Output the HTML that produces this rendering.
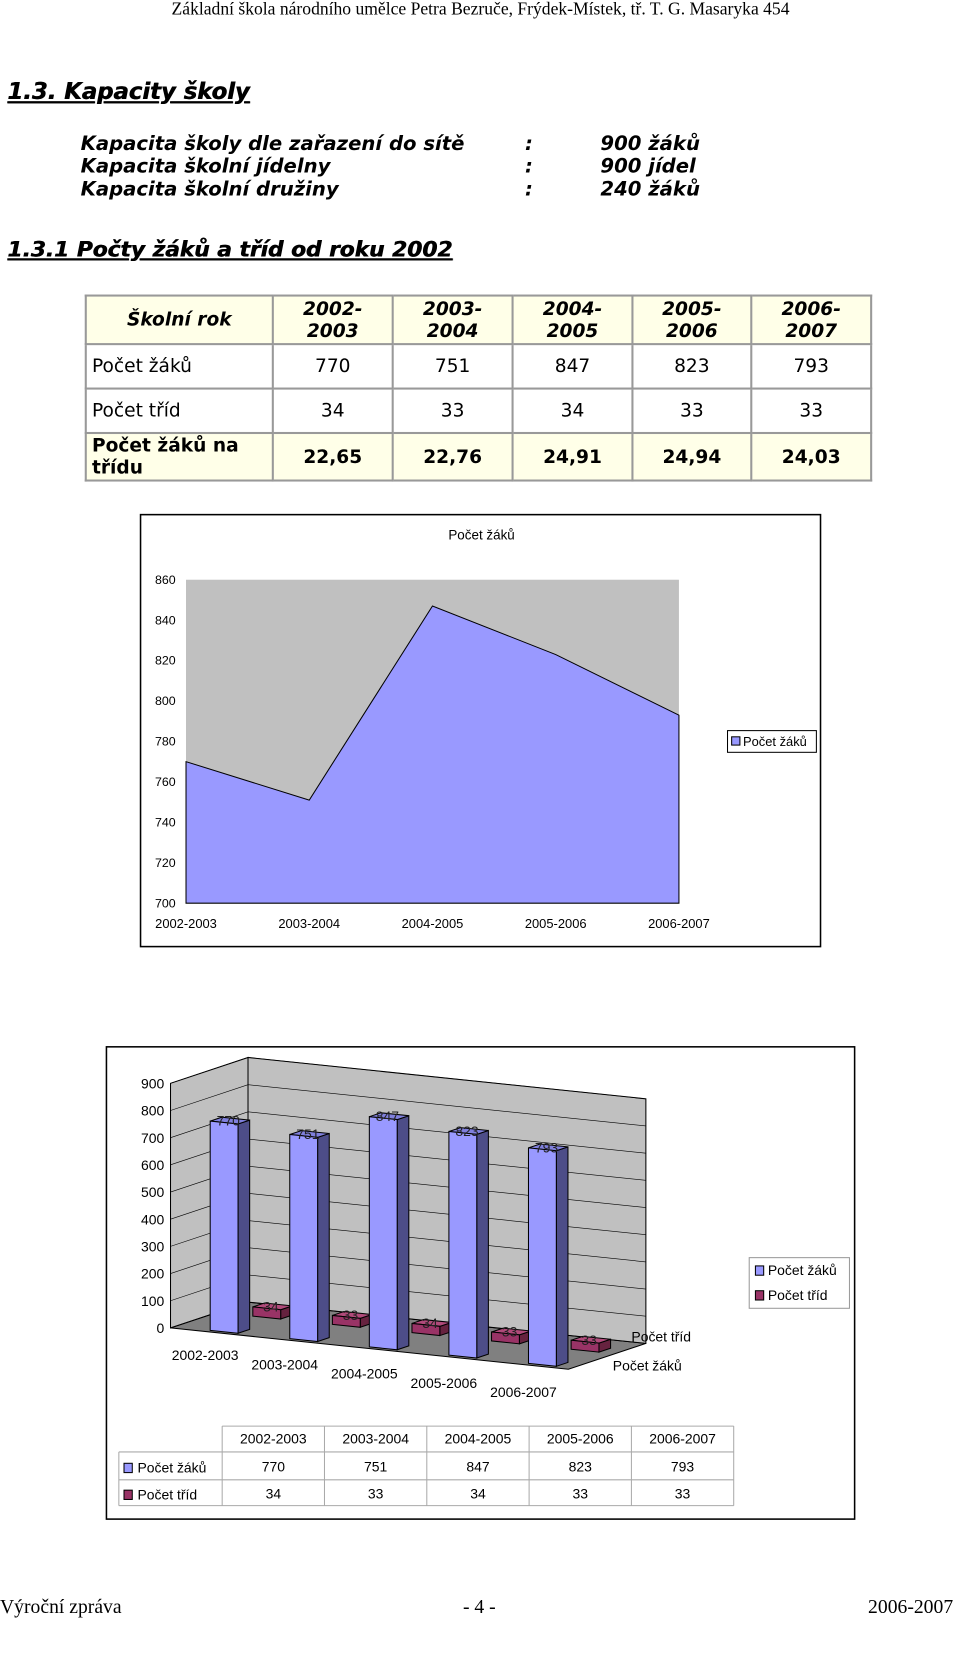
<!DOCTYPE html>
<html><head><meta charset="utf-8"><style>
body{margin:0;width:960px;height:1624px;background:#fff;position:relative;font-family:"Liberation Sans",sans-serif;overflow:hidden}
#wrap{position:absolute;left:0;top:0;width:929px;height:1572px;transform:scale(1.0334);transform-origin:0 0}
.a{position:absolute;white-space:nowrap}
.h{font-family:"DejaVu Sans",sans-serif;font-weight:900;font-style:italic;text-decoration:underline;color:#000;text-shadow:0.6px 0 0 #000}
.cap{font-family:"DejaVu Sans",sans-serif;font-weight:bold;font-style:italic;font-size:19px}
table.t{position:absolute;left:82px;top:285px;border-collapse:collapse;font-family:"DejaVu Sans",sans-serif;font-size:18px}
table.t td{border:2px solid #999;text-align:center;padding:0;line-height:21px}
</style></head><body>
<div id="wrap">
<div class="a" style="left:0;width:930px;text-align:center;top:-1px;font-family:'Liberation Serif',serif;font-size:17px">Základní škola národního umělce Petra Bezruče, Frýdek-Místek, tř. T. G. Masaryka 454</div>
<div class="a h" style="left:7px;top:77px;font-size:22px">1.3. Kapacity školy</div>
<div class="a cap" style="left:78px;top:128px;line-height:22px">Kapacita školy dle zařazení do sítě<br>Kapacita školní jídelny<br>Kapacita školní družiny</div>
<div class="a cap" style="left:508px;top:128px;line-height:22px">:<br>:<br>:</div>
<div class="a cap" style="left:581px;top:128px;line-height:22px">900 žáků<br>900 jídel<br>240 žáků</div>
<div class="a h" style="left:7px;top:229px;font-size:21px">1.3.1 Počty  žáků a tříd od roku 2002</div>

<table class="t">
<tr style="height:47px;background:#ffffe8;font-weight:bold;font-style:italic"><td style="width:179px">Školní rok</td><td style="width:114px">2002-<br>2003</td><td style="width:114px">2003-<br>2004</td><td style="width:114px">2004-<br>2005</td><td style="width:113px">2005-<br>2006</td><td style="width:114px">2006-<br>2007</td></tr>
<tr style="height:43px"><td style="text-align:left;padding-left:5px">Počet žáků</td><td>770</td><td>751</td><td>847</td><td>823</td><td>793</td></tr>
<tr style="height:43px"><td style="text-align:left;padding-left:5px">Počet tříd</td><td>34</td><td>33</td><td>34</td><td>33</td><td>33</td></tr>
<tr style="height:46px;background:#ffffe8;font-weight:bold"><td style="text-align:left;padding-left:5px">Počet žáků na<br>třídu</td><td>22,65</td><td>22,76</td><td>24,91</td><td>24,94</td><td>24,03</td></tr>
</table>

<svg class="a" style="left:0;top:0" width="960" height="1624" font-family="Liberation Sans, sans-serif">
<g id="area">
<rect x="136" y="498" width="658" height="418" fill="#fff" stroke="#000" stroke-width="1.5"/>
<text x="466" y="522" font-size="13" text-anchor="middle">Počet žáků</text>
</g>
<g id="bar3d">
<rect x="103" y="1013" width="724" height="457" fill="#fff" stroke="#000" stroke-width="1.5"/>
</g>
</svg>

<div class="a" style="left:0;top:1545px;font-family:'Liberation Serif',serif;font-size:19px">Výroční zpráva</div>
<div class="a" style="left:448px;top:1545px;font-family:'Liberation Serif',serif;font-size:19px">- 4 -</div>
<div class="a" style="left:840px;top:1545px;font-family:'Liberation Serif',serif;font-size:19px">2006-2007</div>
</div>

<script>
const categories=["2002-2003","2003-2004","2004-2005","2005-2006","2006-2007"];
const pupils=[770,751,847,823,793];
const classes=[34,33,34,33,33];
const areaTicks=[700,720,740,760,780,800,820,840,860];
const barTicks=[0,100,200,300,400,500,600,700,800,900];
const NS="http://www.w3.org/2000/svg";
function mk(p,tag,at,txt){const e=document.createElementNS(NS,tag);for(const k in at)e.setAttribute(k,at[k]);if(txt!==undefined)e.textContent=txt;p.appendChild(e);return e;}

// ---- area chart
const A=document.getElementById('area');
const ax0=180,ax1=657,ay0=874,ay1=561;
const ax=i=>ax0+i*(ax1-ax0)/(categories.length-1);
const ay=v=>ay0-(v-700)/(860-700)*(ay0-ay1);
let r=mk(A,'rect',{x:ax0,y:ay1,width:ax1-ax0,height:ay0-ay1,fill:'#c0c0c0'});


let d='M'+ax0+','+ay0;pupils.forEach((v,i)=>d+=' L'+ax(i)+','+ay(v));d+=' L'+ax1+','+ay0+'Z';
let p=mk(A,'path',{d:d,fill:'#9999ff',stroke:'#000','stroke-width':1});


areaTicks.forEach(t=>{const e=mk(A,'text',{x:170,y:ay(t)+4,'font-size':12,'text-anchor':'end'},t);

});
categories.forEach((c,i)=>{const e=mk(A,'text',{x:ax(i),y:898,'font-size':12.5,'text-anchor':'middle'},c);

});
let lg=mk(A,'g',{});


mk(lg,'rect',{x:704,y:707,width:86,height:21,fill:'#fff',stroke:'#000'});
mk(lg,'rect',{x:708,y:713,width:8,height:8,fill:'#9999ff',stroke:'#000'});
mk(lg,'text',{x:719,y:722,'font-size':12.5},'Počet žáků');

// ---- 3D bar chart
const B=document.getElementById('bar3d');
const P=(c,dd,v)=>[165+c*77+dd*75,1285+c*8-dd*25-v*0.263];
const poly=(pts,fill)=>mk(B,'polygon',{points:pts.map(q=>q.join(',')).join(' '),fill:fill,stroke:'#000','stroke-width':1});
const N=categories.length;
let w=poly([P(0,0,0),P(N,0,0),P(N,1,0),P(0,1,0)],'#808080');


w=poly([P(0,0,0),P(0,1,0),P(0,1,900),P(0,0,900)],'#c0c0c0');


w=poly([P(0,1,0),P(N,1,0),P(N,1,900),P(0,1,900)],'#c0c0c0');


barTicks.forEach(t=>{
  const a=P(0,0,t),b=P(0,1,t),c=P(N,1,t);
  const g=mk(B,'polyline',{points:[a,b,c].map(q=>q.join(',')).join(' '),fill:'none',stroke:'#000','stroke-width':0.6});
  
  
  const e=mk(B,'text',{x:a[0]-6,y:a[1]+5,'font-size':13.5,'text-anchor':'end'},t);
  
  
});
function bar(c0,c1,d0,d1,v,front,side,top,label,name){
  const g=mk(B,'g',{});
  
  
  const q=(pts,f)=>mk(g,'polygon',{points:pts.map(z=>z.join(',')).join(' '),fill:f,stroke:'#000','stroke-width':1});
  q([P(c1,d0,0),P(c1,d1,0),P(c1,d1,v),P(c1,d0,v)],side);
  q([P(c0,d0,v),P(c1,d0,v),P(c1,d1,v),P(c0,d1,v)],top);
  q([P(c0,d0,0),P(c1,d0,0),P(c1,d0,v),P(c0,d0,v)],front);
  const t=P((c0+c1)/2,d0,v);
  mk(g,'text',{x:t[0]+4,y:t[1]+3,'font-size':13.5,'text-anchor':'middle',fill:'#222'},label);
}
classes.forEach((v,i)=>bar(i+0.45,i+0.8,0.6,0.75,v,'#993366','#66223f','#b04a7a',v,'bar-classes-'+categories[i]));
pupils.forEach((v,i)=>bar(i+0.45,i+0.8,0.05,0.2,v,'#9999ff','#4d4d88','#8080dd',v,'bar-pupils-'+categories[i]));
categories.forEach((c,i)=>{const q=P(i+0.5,0,0);const e=mk(B,'text',{x:q[0]-5,y:q[1]+27+i*1,'font-size':13.5,'text-anchor':'middle'},c);

});
mk(B,'text',{x:611,y:1298,'font-size':13.5},'Počet tříd');
mk(B,'text',{x:593,y:1326,'font-size':13.5},'Počet žáků');
let lg2=mk(B,'g',{});


mk(lg2,'rect',{x:725,y:1217,width:97,height:49,fill:'#fff',stroke:'#999'});
mk(lg2,'rect',{x:731,y:1225,width:8,height:9,fill:'#9999ff',stroke:'#000'});
mk(lg2,'text',{x:743,y:1234,'font-size':13.5},'Počet žáků');
mk(lg2,'rect',{x:731,y:1249,width:8,height:9,fill:'#993366',stroke:'#000'});
mk(lg2,'text',{x:743,y:1258,'font-size':13.5},'Počet tříd');
// data table
let dt=mk(B,'g',{});


const cx0=215,cw=99;
mk(dt,'line',{x1:cx0,y1:1380,x2:cx0+cw*5,y2:1380,stroke:'#aaa'});
[1405,1432,1457].forEach(y=>mk(dt,'line',{x1:115,y1:y,x2:cx0+cw*5,y2:y,stroke:'#aaa'}));
mk(dt,'line',{x1:115,y1:1405,x2:115,y2:1457,stroke:'#aaa'});
for(let i=0;i<=5;i++)mk(dt,'line',{x1:cx0+i*cw,y1:1380,x2:cx0+i*cw,y2:1457,stroke:'#aaa'});
categories.forEach((c,i)=>{mk(dt,'text',{x:cx0+cw*i+cw/2,y:1397,'font-size':13.5,'text-anchor':'middle'},c);
 mk(dt,'text',{x:cx0+cw*i+cw/2,y:1424,'font-size':13.5,'text-anchor':'middle'},pupils[i]);
 mk(dt,'text',{x:cx0+cw*i+cw/2,y:1450,'font-size':13.5,'text-anchor':'middle'},classes[i]);});
mk(dt,'rect',{x:120,y:1416,width:8,height:9,fill:'#9999ff',stroke:'#000'});
mk(dt,'text',{x:133,y:1425,'font-size':13.5},'Počet žáků');
mk(dt,'rect',{x:120,y:1442,width:8,height:9,fill:'#993366',stroke:'#000'});
mk(dt,'text',{x:133,y:1451,'font-size':13.5},'Počet tříd');
</script>
</body></html>
